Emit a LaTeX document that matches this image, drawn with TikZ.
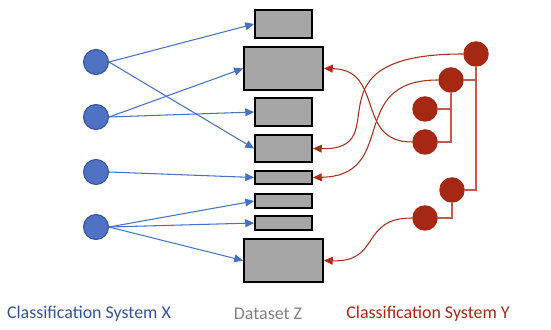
\documentclass[tikz,border=0pt]{standalone}
\usepackage{fontspec}
\setmainfont{Carlito}
\usetikzlibrary{arrows.meta}
\definecolor{xfill}{RGB}{79,114,196}
\definecolor{xedge}{RGB}{52,84,150}
\definecolor{xline}{RGB}{68,114,196}
\definecolor{xtext}{RGB}{47,85,151}
\definecolor{yfill}{RGB}{166,40,18}
\definecolor{yline}{RGB}{170,45,25}
\definecolor{ytree}{RGB}{196,90,75}
\definecolor{zfill}{RGB}{165,165,165}
\definecolor{ztext}{RGB}{128,128,128}
\tikzset{
  xnode/.style={circle, fill=xfill, draw=xedge, line width=0.6pt, minimum size=5mm, inner sep=0pt},
  ynode/.style={circle, fill=yfill, minimum size=5.1mm, inner sep=0pt},
  zbox/.style 2 args={draw=black, fill=zfill, line width=1.1pt, inner sep=0pt,
    minimum width=#1*0.2mm, minimum height=#2*0.2mm},
  xarrow/.style={draw=xline, line width=0.6pt, -{Triangle[length=5pt,width=4.5pt]}},
  yarrow/.style={draw=yline, line width=0.6pt, -{Triangle[length=5pt,width=4.5pt]}},
  ylink/.style={draw=ytree, line width=0.8pt},
  caption/.style={font=\fontsize{10.2}{12}\selectfont},
}

\begin{document}
\begin{tikzpicture}[x=0.2mm, y=-0.2mm]
\useasboundingbox (0,0) rectangle (551,330);
% Dataset Z
\node[zbox={57}{28}] (b1) at (283.5,24) {};
\node[zbox={79}{43}] (b2) at (283.5,68.5) {};
\node[zbox={57}{28}] (b3) at (283.5,112) {};
\node[zbox={57}{27}] (b4) at (283.5,148.5) {};
\node[zbox={57}{13}] (b5) at (283.5,177.5) {};
\node[zbox={57}{14}] (b6) at (283.5,201) {};
\node[zbox={57}{14}] (b7) at (283.5,223) {};
\node[zbox={79}{43}] (b8) at (283.5,260.5) {};
% System X classes
\node[xnode] (x1) at (96,62) {};
\node[xnode] (x2) at (96,117) {};
\node[xnode] (x3) at (96,172) {};
\node[xnode] (x4) at (96,227) {};
% System Y hierarchy
\node[ynode] (y1) at (476,54) {};
\node[ynode] (y2) at (451,80) {};
\node[ynode] (y3) at (425,109) {};
\node[ynode] (y4) at (425,142) {};
\node[ynode] (y5) at (452,190) {};
\node[ynode] (y6) at (425,218) {};
\draw[ylink] (y1.south) |- (y5.east);
\draw[ylink] (y2.east) -- (y2.east -| y1.south);
\draw[ylink] (y2.south) |- (y4.east);
\draw[ylink] (y3.east) -- (y3.east -| y2.south);
\draw[ylink] (y5.south) |- (y6.east);
% X assignments
\draw[xarrow] (x1.east) -- (b1.west);
\draw[xarrow] (x1.east) -- (b4.west);
\draw[xarrow] (x2.east) -- (b2.west);
\draw[xarrow] (x2.east) -- (b3.west);
\draw[xarrow] (x3.east) -- (b5.west);
\draw[xarrow] (x4.east) -- (b6.west);
\draw[xarrow] (x4.east) -- (b7.west);
\draw[xarrow] (x4.east) -- (b8.west);
% Y assignments
\draw[yarrow] (y1.west) .. controls +(-163,0) and +(87,2) .. (b4.east);
\draw[yarrow] (y4.west) .. controls +(-57,0) and +(61,1) .. (b2.east);
\draw[yarrow] (y2.west) .. controls +(-93,0) and +(87,-2) .. (b5.east);
\draw[yarrow] (y6.west) .. controls +(-52,0) and +(57,2) .. (b8.east);
% Labels
\node[caption, text=xtext] (xlabel) at (89,314) {Classification System X};
\node[caption, text=ztext] (zlabel) at (268,314) {Dataset Z};
\node[caption, text=yfill] (ylabel) at (428,314) {Classification System Y};
\end{tikzpicture}
\end{document}
